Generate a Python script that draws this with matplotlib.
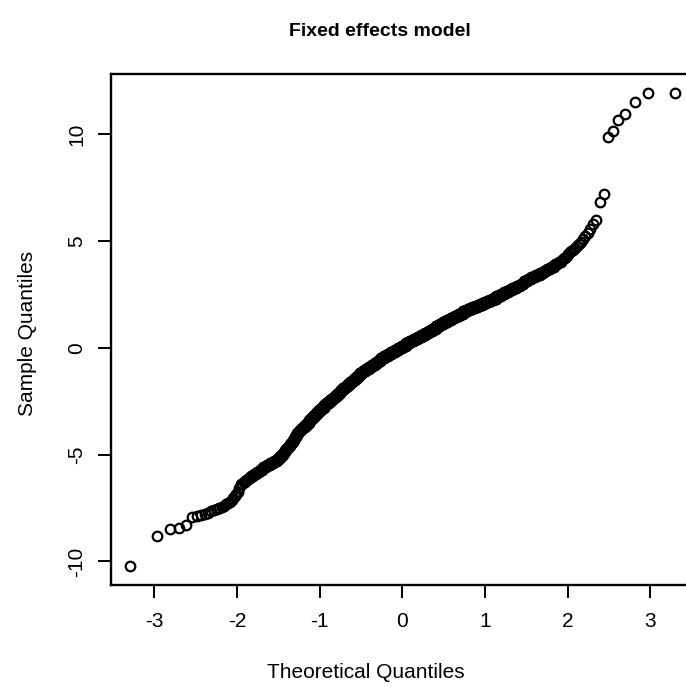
import statistics

import matplotlib
matplotlib.use("Agg")
import matplotlib.pyplot as plt
import numpy as np

# Residuals of the fixed effects model, recorded to one decimal in the bulk
# (value -> number of observations) plus the individually listed extremes.
lower_tail = [-10.20, -8.83, -8.48, -8.42, -8.28, -7.91, -7.88, -7.83, -7.78,
              -7.75, -7.66, -7.60, -7.53, -7.48, -7.44, -7.40, -7.33, -7.28,
              -7.20, -7.12, -7.05, -6.95, -6.85, -6.74, -6.55]

body_values = [-6.4, -6.3, -6.2, -6.1, -6.0, -5.9, -5.8, -5.7, -5.6, -5.5,
               -5.4, -5.3, -5.2, -5.1, -5.0, -4.9, -4.8, -4.7, -4.6, -4.5,
               -4.4, -4.3, -4.2, -4.1, -4.0, -3.9, -3.8, -3.7, -3.6, -3.5,
               -3.4, -3.3, -3.2, -3.1, -3.0, -2.9, -2.8, -2.7, -2.6, -2.5,
               -2.4, -2.3, -2.2, -2.1, -2.0, -1.9, -1.8, -1.7, -1.6, -1.5,
               -1.4, -1.3, -1.2, -1.1, -1.0, -0.9, -0.8, -0.7, -0.6, -0.5,
               -0.4, -0.3, -0.2, -0.1, 0.0, 0.1, 0.2, 0.3, 0.4, 0.5,
               0.6, 0.7, 0.8, 0.9, 1.0, 1.1, 1.2, 1.3, 1.4, 1.5,
               1.6, 1.7, 1.8, 1.9, 2.0, 2.1, 2.2, 2.3, 2.4, 2.5,
               2.6, 2.7, 2.8, 2.9, 3.0, 3.1, 3.2, 3.3, 3.4, 3.5,
               3.6, 3.7, 3.8, 3.9, 4.0, 4.1, 4.2, 4.3, 4.4]

body_counts = [2, 2, 2, 2, 3, 3, 3, 4, 4, 5,
               5, 5, 3, 3, 4, 3, 3, 3, 3, 3,
               3, 3, 3, 3, 3, 4, 5, 6, 5, 5,
               5, 6, 5, 5, 5, 7, 8, 8, 8, 8,
               8, 8, 8, 8, 9, 10, 9, 9, 10, 9,
               10, 9, 13, 13, 14, 13, 14, 13, 14, 17,
               17, 16, 17, 17, 17, 19, 19, 19, 19, 18,
               17, 16, 17, 16, 16, 16, 16, 16, 15, 16,
               16, 17, 16, 17, 15, 13, 13, 13, 11, 8,
               9, 8, 8, 7, 6, 6, 5, 6, 6, 4,
               3, 4, 4, 3, 3, 1, 2, 1, 1]

upper_tail = [4.48, 4.52, 4.57, 4.67, 4.76, 4.85, 4.95, 5.09, 5.23, 5.37,
              5.55, 5.79, 5.98, 6.83, 7.18, 9.87, 10.15, 10.66, 10.94, 11.50,
              11.90, 11.93]

x_ticks = [-3, -2, -1, 0, 1, 2, 3]
y_ticks = [-10, -5, 0, 5, 10]

# Sorted sample and normal scores at the plotting positions (i - 1/2) / n
sample = np.sort(np.concatenate([lower_tail,
                                 np.repeat(body_values, body_counts),
                                 upper_tail]))
n = len(sample)
normal = statistics.NormalDist()
theoretical = np.array([normal.inv_cdf((i - 0.5) / n) for i in range(1, n + 1)])

plt.rcParams["font.family"] = ["Liberation Sans", "DejaVu Sans"]
plt.rcParams["axes.unicode_minus"] = False

W, H = 686, 687
fig = plt.figure(figsize=(W / 100, H / 100), dpi=100)
fig.patch.set_facecolor("white")

# Plot box: left edge at x=110.7 px, bottom at y=584.5 px; it runs past the right border
left_px, right_px = 110.7, 696.0
top_px, bottom_px = 73.8, 584.5
ax = fig.add_axes([left_px / W, 1 - bottom_px / H,
                   (right_px - left_px) / W, (bottom_px - top_px) / H])

ax.plot(theoretical, sample, linestyle="none", marker="o", markersize=6.9,
        markerfacecolor="none", markeredgecolor="black", markeredgewidth=1.6)

ax.set_xlim(-3.525, 3.55)
ax.set_ylim(-11.08, 12.82)

ax.set_xticks(x_ticks)
ax.set_xticklabels([str(t) for t in x_ticks])
ax.set_yticks(y_ticks)
ax.set_yticklabels([str(t) for t in y_ticks], rotation=90, va="center")

for side in ax.spines.values():
    side.set_linewidth(1.7)
    side.set_color("black")
ax.tick_params(axis="both", direction="out", length=9.5, width=1.4,
               labelsize=15, colors="black")
ax.tick_params(axis="x", pad=10)
ax.tick_params(axis="y", pad=8)

fig.text(380 / W, 1 - 32 / H, "Fixed effects model", ha="center", va="center",
         fontsize=14, fontweight="bold")
fig.text(366 / W, 1 - 672 / H, "Theoretical Quantiles", ha="center",
         va="center", fontsize=15)
fig.text(28 / W, 1 - 333 / H, "Sample Quantiles", ha="center", va="center",
         rotation=90, fontsize=15)

fig.savefig("out.png", dpi=100)
